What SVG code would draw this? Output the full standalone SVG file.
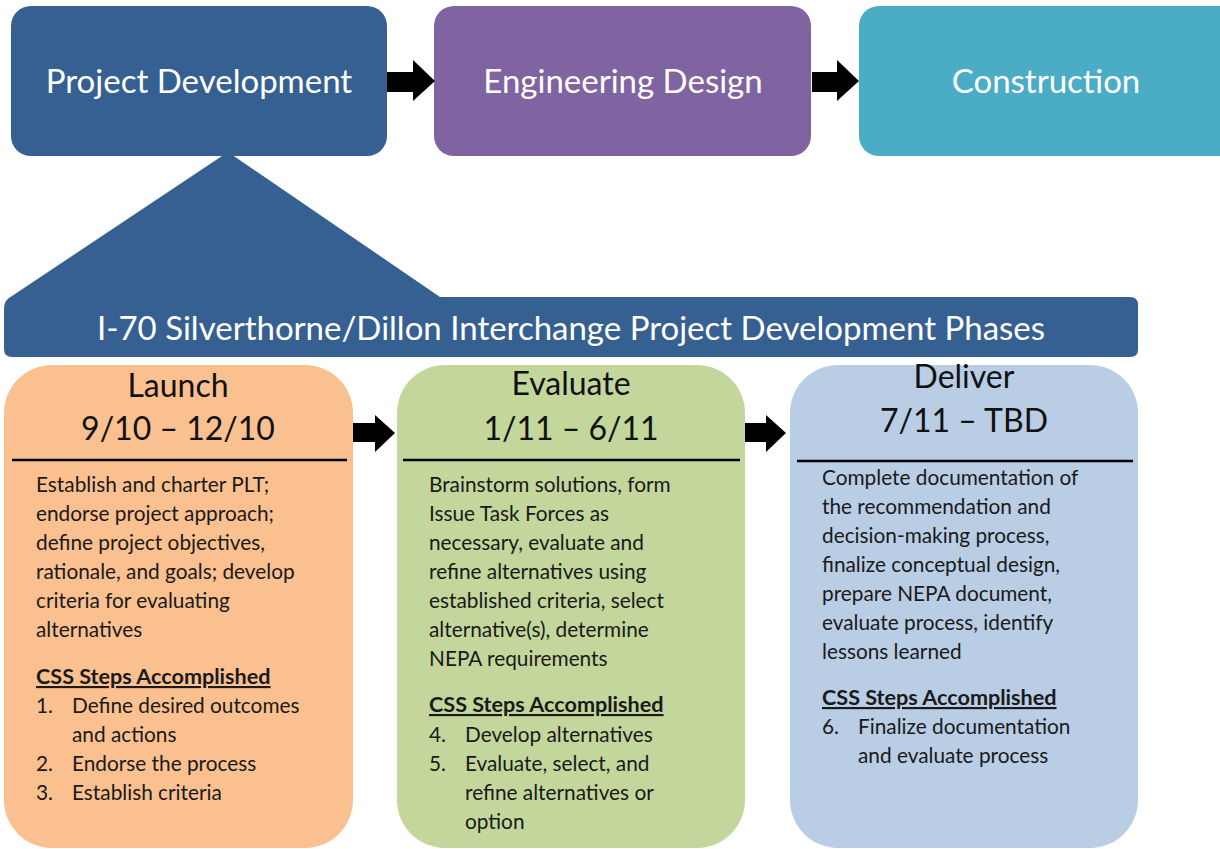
<svg xmlns="http://www.w3.org/2000/svg" width="1220" height="849" viewBox="0 0 1220 849">
<style>
.top{font-family:Lato,"Liberation Sans",sans-serif;font-size:33px;fill:#ffffff;text-anchor:middle}
.hd{font-family:Lato,"Liberation Sans",sans-serif;font-size:32px;fill:#111111;text-anchor:middle}
.bd{font-family:Lato,"Liberation Sans",sans-serif;font-size:20.8px;fill:#1a1a1a}
.css{font-weight:bold;text-decoration:underline;font-size:21.6px}
.sep{stroke:#000000;stroke-width:2.5}
.arr{fill:#000000}
</style>
<rect width="1220" height="849" fill="#ffffff"/>
<g id="project-development">
<rect x="11" y="6" width="376" height="150" rx="20" fill="#376092"/>
<text class="top" x="199" y="93">Project Development</text>
</g>
<g id="engineering-design">
<rect x="434" y="6" width="377" height="150" rx="20" fill="#8064a2"/>
<text class="top" x="623" y="93">Engineering Design</text>
</g>
<g id="construction">
<rect x="859" y="6" width="380" height="150" rx="20" fill="#4bacc6"/>
<text class="top" x="1046" y="93">Construction</text>
</g>
<g id="phases-banner">
<path d="M228,152 L440,297 L1130,297 Q1138,297 1138,305 L1138,350 Q1138,357 1130,357 L12,357 Q4,357 4,349 L4,308 Q4,300 12,296 Z" fill="#376092"/>
<text class="top" x="571" y="340">I-70 Silverthorne/Dillon Interchange Project Development Phases</text>
</g>
<g id="launch">
<rect x="4" y="365" width="349" height="483" rx="48" fill="#fac090"/>
<text class="hd" x="178" y="397">Launch</text>
<text class="hd" x="178" y="440">9/10 – 12/10</text>
<line class="sep" x1="12" y1="460" x2="347" y2="460"/>
<text class="bd" x="36" y="492">Establish and charter PLT;</text>
<text class="bd" x="36" y="521">endorse project approach;</text>
<text class="bd" x="36" y="550">define project objectives,</text>
<text class="bd" x="36" y="579">rationale, and goals; develop</text>
<text class="bd" x="36" y="608">criteria for evaluating</text>
<text class="bd" x="36" y="637">alternatives</text>
<text class="bd css" x="36" y="684">CSS Steps Accomplished</text>
<text class="bd" x="36" y="713">1.</text><text class="bd" x="72" y="713">Define desired outcomes</text>
<text class="bd" x="72" y="742">and actions</text>
<text class="bd" x="36" y="771">2.</text><text class="bd" x="72" y="771">Endorse the process</text>
<text class="bd" x="36" y="800">3.</text><text class="bd" x="72" y="800">Establish criteria</text>
</g>
<g id="evaluate">
<rect x="397" y="365" width="348" height="483" rx="48" fill="#c3d69b"/>
<text class="hd" x="571" y="395">Evaluate</text>
<text class="hd" x="571" y="440">1/11 – 6/11</text>
<line class="sep" x1="403" y1="460" x2="740" y2="460"/>
<text class="bd" x="429" y="492">Brainstorm solutions, form</text>
<text class="bd" x="429" y="521">Issue Task Forces as</text>
<text class="bd" x="429" y="550">necessary, evaluate and</text>
<text class="bd" x="429" y="579">refine alternatives using</text>
<text class="bd" x="429" y="608">established criteria, select</text>
<text class="bd" x="429" y="637">alternative(s), determine</text>
<text class="bd" x="429" y="666">NEPA requirements</text>
<text class="bd css" x="429" y="712">CSS Steps Accomplished</text>
<text class="bd" x="429" y="742">4.</text><text class="bd" x="465" y="742">Develop alternatives</text>
<text class="bd" x="429" y="771">5.</text><text class="bd" x="465" y="771">Evaluate, select, and</text>
<text class="bd" x="465" y="800">refine alternatives or</text>
<text class="bd" x="465" y="829">option</text>
</g>
<g id="deliver">
<rect x="790" y="365" width="348" height="483" rx="48" fill="#b9cde5"/>
<text class="hd" x="964" y="388">Deliver</text>
<text class="hd" x="964" y="432">7/11 – TBD</text>
<line class="sep" x1="797" y1="461" x2="1133" y2="461"/>
<text class="bd" x="822" y="485">Complete documentation of</text>
<text class="bd" x="822" y="514">the recommendation and</text>
<text class="bd" x="822" y="543">decision-making process,</text>
<text class="bd" x="822" y="572">finalize conceptual design,</text>
<text class="bd" x="822" y="601">prepare NEPA document,</text>
<text class="bd" x="822" y="630">evaluate process, identify</text>
<text class="bd" x="822" y="659">lessons learned</text>
<text class="bd css" x="822" y="705">CSS Steps Accomplished</text>
<text class="bd" x="822" y="734">6.</text><text class="bd" x="858" y="734">Finalize documentation</text>
<text class="bd" x="858" y="763">and evaluate process</text>
</g>
<g id="connectors">
<path class="arr" d="M387,72 L413,72 L413,60 L435,81 L413,101 L413,92 L387,92 Z"/>
<path class="arr" d="M812,72 L837,72 L837,60 L859,81 L837,101 L837,92 L812,92 Z"/>
<path class="arr" d="M353,423 L375,423 L375,415 L395,433 L375,452 L375,442 L353,442 Z"/>
<path class="arr" d="M745,423 L766,423 L766,415 L786,433 L766,452 L766,442 L745,442 Z"/>
</g>
</svg>
